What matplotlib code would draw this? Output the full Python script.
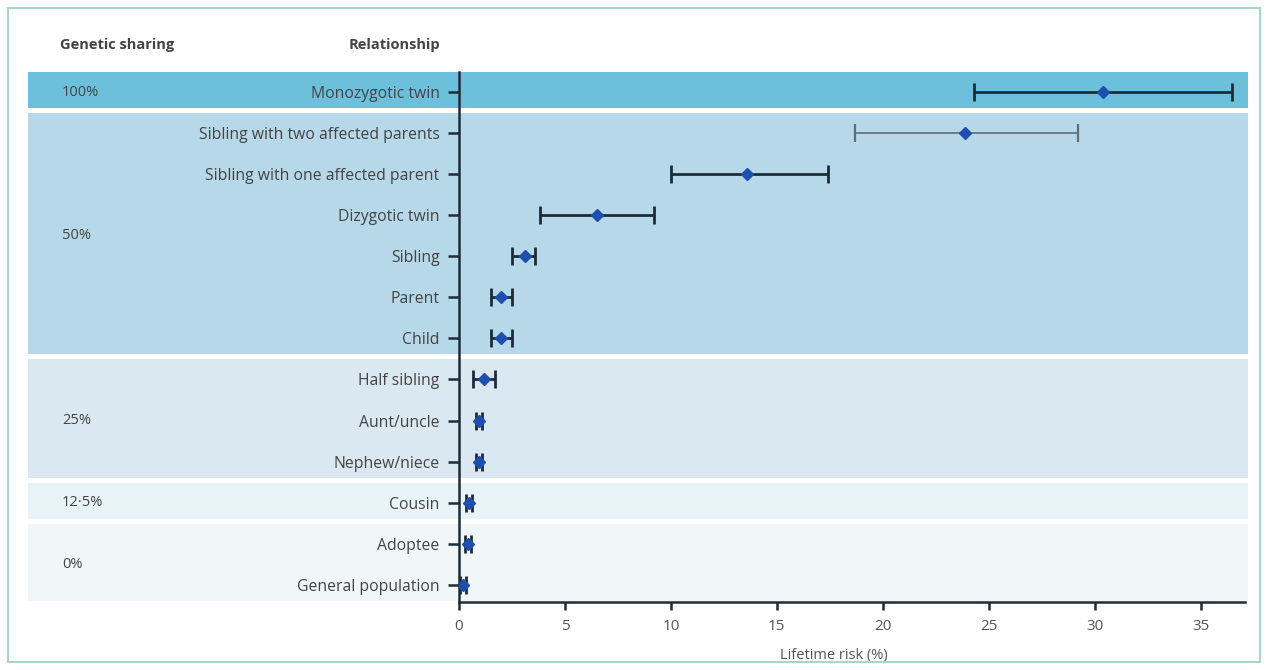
import matplotlib
matplotlib.use("Agg")
import matplotlib.pyplot as plt
from matplotlib.patches import Rectangle
from matplotlib.transforms import blended_transform_factory

plt.rcParams['font.family'] = ['Open Sans', 'DejaVu Sans']

# data
relationships = ["Monozygotic twin", "Sibling with two affected parents",
                 "Sibling with one affected parent", "Dizygotic twin", "Sibling",
                 "Parent", "Child", "Half sibling", "Aunt/uncle", "Nephew/niece",
                 "Cousin", "Adoptee", "General population"]
risk = [30.4, 23.9, 13.6, 6.5, 3.1, 2.0, 2.0, 1.2, 0.95, 0.95, 0.47, 0.42, 0.2]
ci_low = [24.3, 18.7, 10.0, 3.8, 2.5, 1.5, 1.5, 0.65, 0.8, 0.8, 0.35, 0.3, 0.05]
ci_high = [36.5, 29.2, 17.4, 9.2, 3.6, 2.5, 2.5, 1.7, 1.1, 1.1, 0.6, 0.55, 0.35]

groups = ["100%", "50%", "25%", "12·5%", "0%"]
group_rows = [(0, 0), (1, 6), (7, 9), (10, 10), (11, 12)]
group_colors = ["#6cc0dc", "#b6d8e8", "#d9e8f1", "#e8f3f8", "#f1f6f9"]

fig = plt.figure(figsize=(12.68, 6.70), dpi=100)
ax = fig.add_axes([459/1268, 68/670, (1245-459)/1268, (602-72)/670])
ax.patch.set_visible(False)

# frame round the figure
fig.patches.append(Rectangle((8/1268, 8/670), 1252/1268, 654/670, transform=fig.transFigure,
                             fill=False, edgecolor="#a9d6c6", lw=1.5))

# coloured bands per genetic-sharing group
trans = blended_transform_factory(fig.transFigure, ax.transData)
for name, (a, b), col in zip(groups, group_rows, group_colors):
    ax.add_patch(Rectangle((28/1268, a - 0.49), (1248-28)/1268, (b - a) + 0.88,
                           transform=trans, facecolor=col, edgecolor="none",
                           clip_on=False, zorder=0))
    ax.text(62/1268, (a + b) / 2, name, transform=trans,
            fontsize=10.5, color="#444444", va="center", ha="left")

y = list(range(len(relationships)))
for i in y:
    thin = relationships[i] == "Sibling with two affected parents"
    ax.errorbar(risk[i], i, xerr=[[risk[i] - ci_low[i]], [ci_high[i] - risk[i]]],
                fmt="D", color="#1f4fae", markersize=6.5,
                ecolor="#5f6e78" if thin else "#1d2c38",
                elinewidth=1.2 if thin else 2.0, capsize=6.5,
                capthick=1.6 if thin else 2.0, zorder=3)

ax.set_xlim(0, 37.1)
ax.set_ylim(12.42, -0.49)
ax.set_xticks([0, 5, 10, 15, 20, 25, 30, 35])
ax.set_yticks(y)
ax.set_yticklabels(relationships)
ax.tick_params(axis="y", length=8, width=1.8, color="#1d2c38", labelsize=11.3,
               labelcolor="#444444", pad=6)
ax.tick_params(axis="x", length=6, width=1.8, color="#1d2c38", labelsize=11,
               labelcolor="#555555", pad=6)
for s in ["top", "right"]:
    ax.spines[s].set_visible(False)
for s in ["left", "bottom"]:
    ax.spines[s].set_linewidth(1.8)
    ax.spines[s].set_color("#1d2c38")
ax.set_xlabel("Lifetime risk (%)", fontsize=10.5, color="#555555")
ax.xaxis.set_label_coords(0.477, -0.087)

fig.text(60/1268, 1 - 45/670, "Genetic sharing", fontsize=10.5, fontweight="bold",
         color="#444444", va="center", ha="left")
fig.text(440/1268, 1 - 45/670, "Relationship", fontsize=10.5, fontweight="bold",
         color="#444444", va="center", ha="right")

fig.savefig("out.png", dpi=100)
